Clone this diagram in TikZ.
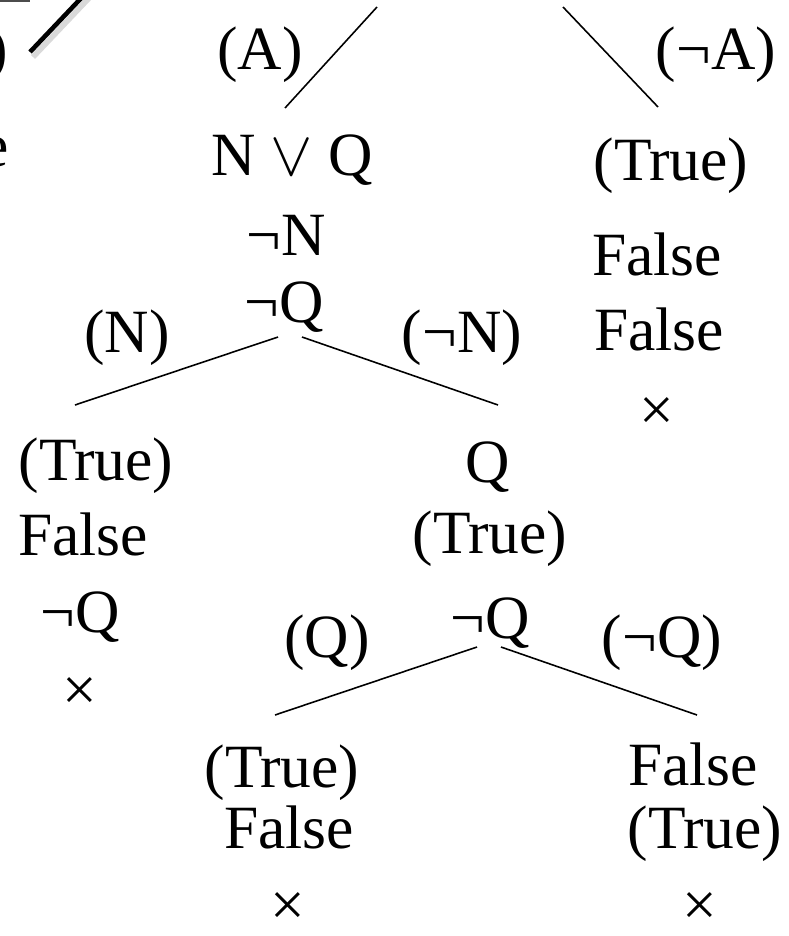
\documentclass[tikz,border=0pt]{standalone}
\usepackage{fontspec}
\setmainfont{Liberation Serif}
\begin{document}
\begin{tikzpicture}[x=0.02cm, y=-0.02cm,
		lbl/.style={font=\fontsize{35}{42}\selectfont, inner sep=0pt, anchor=base},
		branch/.style={line width=0.9pt}]
		\useasboundingbox (0, 0) rectangle (788, 936);
		\clip (0, 0) rectangle (788, 936);

		% cut-off pieces at the top left
		\draw[line width=1.6pt, gray!60!black] (0, 0.5) -- (30, 0.5);
		\draw[line width=3.2pt, gray, opacity=0.3] (33, 57) -- (89, -2);
		\draw[line width=2.6pt] (30, 52) -- (86, -7);
		\node[lbl, anchor=base east] (cutp) at (8, 70) {)};
		\node[lbl, anchor=base east] (cute) at (9, 166) {e};

		% top split
		\coordinate (topA) at (377, 7);
		\coordinate (topnA) at (563, 7);
		\node[lbl] (lblA) at (260, 70) {(A)};
		\node[lbl] (lblnA) at (716, 70) {(¬A)};

		% A branch
		\node[lbl] (nq) at (292, 175) {N \scalebox{1.45}{$\vee$} Q};
		\node[lbl] (nn) at (286, 255) {¬N};
		\node[lbl] (nqa) at (284, 322) {¬Q};
		\node[lbl] (lblN) at (127, 352) {(N)};
		\node[lbl] (lblnN) at (462, 352) {(¬N)};

		% not A branch
		\node[lbl] (rt) at (671, 180) {(True)};
		\node[lbl] (rf1) at (657, 275) {False};
		\node[lbl] (rf2) at (659, 350) {False};
		\node[lbl] (rx) at (657, 430) {×};

		% N branch
		\node[lbl] (lt) at (96, 480) {(True)};
		\node[lbl] (lf) at (83, 555) {False};
		\node[lbl] (lnq) at (80, 632) {¬Q};
		\node[lbl] (lx) at (80, 710) {×};

		% not N branch
		\node[lbl] (q) at (488, 482) {Q};
		\node[lbl] (qt) at (490, 553) {(True)};
		\node[lbl] (qn) at (490, 638) {¬Q};
		\node[lbl] (lblQ) at (327, 657) {(Q)};
		\node[lbl] (lblnQ) at (662, 657) {(¬Q)};

		% Q and not Q
		\node[lbl] (bt) at (282, 787) {(True)};
		\node[lbl] (bf) at (289, 848) {False};
		\node[lbl] (bx) at (288, 925) {×};
		\node[lbl] (brf) at (693, 785) {False};
		\node[lbl] (brt) at (705, 848) {(True)};
		\node[lbl] (brx) at (700, 925) {×};

		\draw[branch] ([shift={(-7, -67)}]nq.base) -- (topA);
		\draw[branch] ([shift={(-13, -73)}]rt.base) -- (topnA);
		\draw[branch] ([shift={(-6, 15)}]nqa.base) -- ([shift={(-21, -75)}]lt.base);
		\draw[branch] ([shift={(18, 15)}]nqa.base) -- ([shift={(10, -77)}]q.base);
		\draw[branch] ([shift={(-13, 9)}]qn.base) -- ([shift={(-7, -72)}]bt.base);
		\draw[branch] ([shift={(11, 9)}]qn.base) -- ([shift={(4, -70)}]brf.base);
	\end{tikzpicture}
\end{document}
